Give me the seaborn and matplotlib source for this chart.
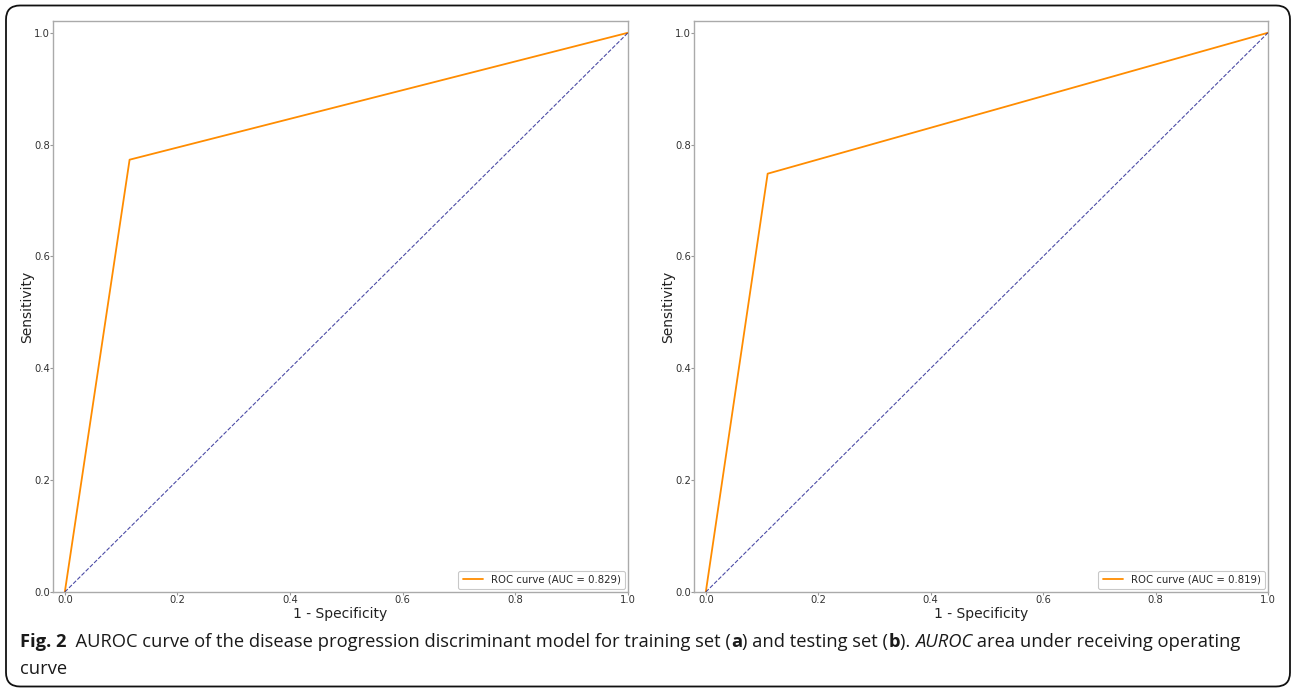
import matplotlib
matplotlib.use("Agg")
import matplotlib.pyplot as plt
from matplotlib.patches import FancyBboxPatch
import seaborn as sns
import pandas as pd

# ROC points: (0,0) -> knee -> (1,1)
train_fpr = [0.0, 0.115, 1.0]
train_tpr = [0.0, 0.773, 1.0]
test_fpr = [0.0, 0.110, 1.0]
test_tpr = [0.0, 0.748, 1.0]
train_auc = 0.829
test_auc = 0.819
chance = [0.0, 1.0]
xticks = [0.0, 0.2, 0.4, 0.6, 0.8, 1.0]

sns.set_theme(style="ticks")
plt.rcParams["font.family"] = ["DejaVu Sans"]

W, H = 1291, 689
fig = plt.figure(figsize=(W / 100, H / 100), dpi=100)


def roc_panel(ax, fpr, tpr, auc):
    df = pd.DataFrame({"fpr": fpr, "tpr": tpr})
    sns.lineplot(data=df, x="fpr", y="tpr", ax=ax, color="darkorange", lw=1.3,
                 sort=False, estimator=None, label=f"ROC curve (AUC = {auc:.3f})")
    sns.lineplot(x=chance, y=chance, ax=ax, color="navy", lw=0.8, alpha=0.7, linestyle="--")
    ax.set_xlim(-0.021, 1.0)
    ax.set_ylim(0.0, 1.021)
    ax.set_xticks(xticks)
    ax.set_yticks(xticks)
    ax.set_xticklabels([f"{t:.1f}" for t in xticks])
    ax.set_yticklabels([f"{t:.1f}" for t in xticks])
    ax.tick_params(labelsize=7.2, colors="#333333", length=2, width=0.8, pad=0.3)
    ax.tick_params(color="#999999")
    for s in ax.spines.values():
        s.set_color("#aaaaaa")
        s.set_linewidth(1.0)
    ax.set_xlabel("1 - Specificity", fontsize=10, color="#222222", labelpad=1)
    ax.set_ylabel("Sensitivity", fontsize=10, color="#222222", labelpad=0)
    leg = ax.legend(loc="lower right", fontsize=7.3, frameon=True, fancybox=True,
                    borderaxespad=0.3)
    leg.get_frame().set_edgecolor("#bbbbbb")
    leg.get_frame().set_linewidth(0.8)


ax1 = fig.add_axes([53 / W, (H - 592) / H, (628 - 53) / W, (592 - 21) / H])
ax2 = fig.add_axes([694 / W, (H - 592) / H, (1268 - 694) / W, (592 - 21) / H])
roc_panel(ax1, train_fpr, train_tpr, train_auc)
roc_panel(ax2, test_fpr, test_tpr, test_auc)

# overlay axes in pixel units for the frame and the caption
ov = fig.add_axes([0, 0, 1, 1], zorder=-1)
ov.set_xlim(0, W)
ov.set_ylim(H, 0)
ov.axis("off")
ov.add_patch(FancyBboxPatch((6, 5.5), 1284, 681, boxstyle="round,pad=0,rounding_size=14",
                            fill=False, edgecolor="#111111", lw=1.3))

cap_font = ["Open Sans", "DejaVu Sans"]
cap_size = 13.2
renderer = fig.canvas.get_renderer()


def runs(x, y, parts):
    for txt, weight, style in parts:
        t = ov.text(x, y, txt, fontsize=cap_size, family=cap_font, fontweight=weight,
                    fontstyle=style, va="baseline", ha="left", color="#1a1a1a")
        bb = t.get_window_extent(renderer=renderer)
        x += bb.width


runs(20, 647, [
    ("Fig. 2", "bold", "normal"),
    ("  AUROC curve of the disease progression discriminant model for training set (", "normal", "normal"),
    ("a", "bold", "normal"),
    (") and testing set (", "normal", "normal"),
    ("b", "bold", "normal"),
    ("). ", "normal", "normal"),
    ("AUROC", "normal", "italic"),
    (" area under receiving operating", "normal", "normal"),
])
runs(20, 674, [("curve", "normal", "normal")])

fig.savefig("out.png", dpi=100)
